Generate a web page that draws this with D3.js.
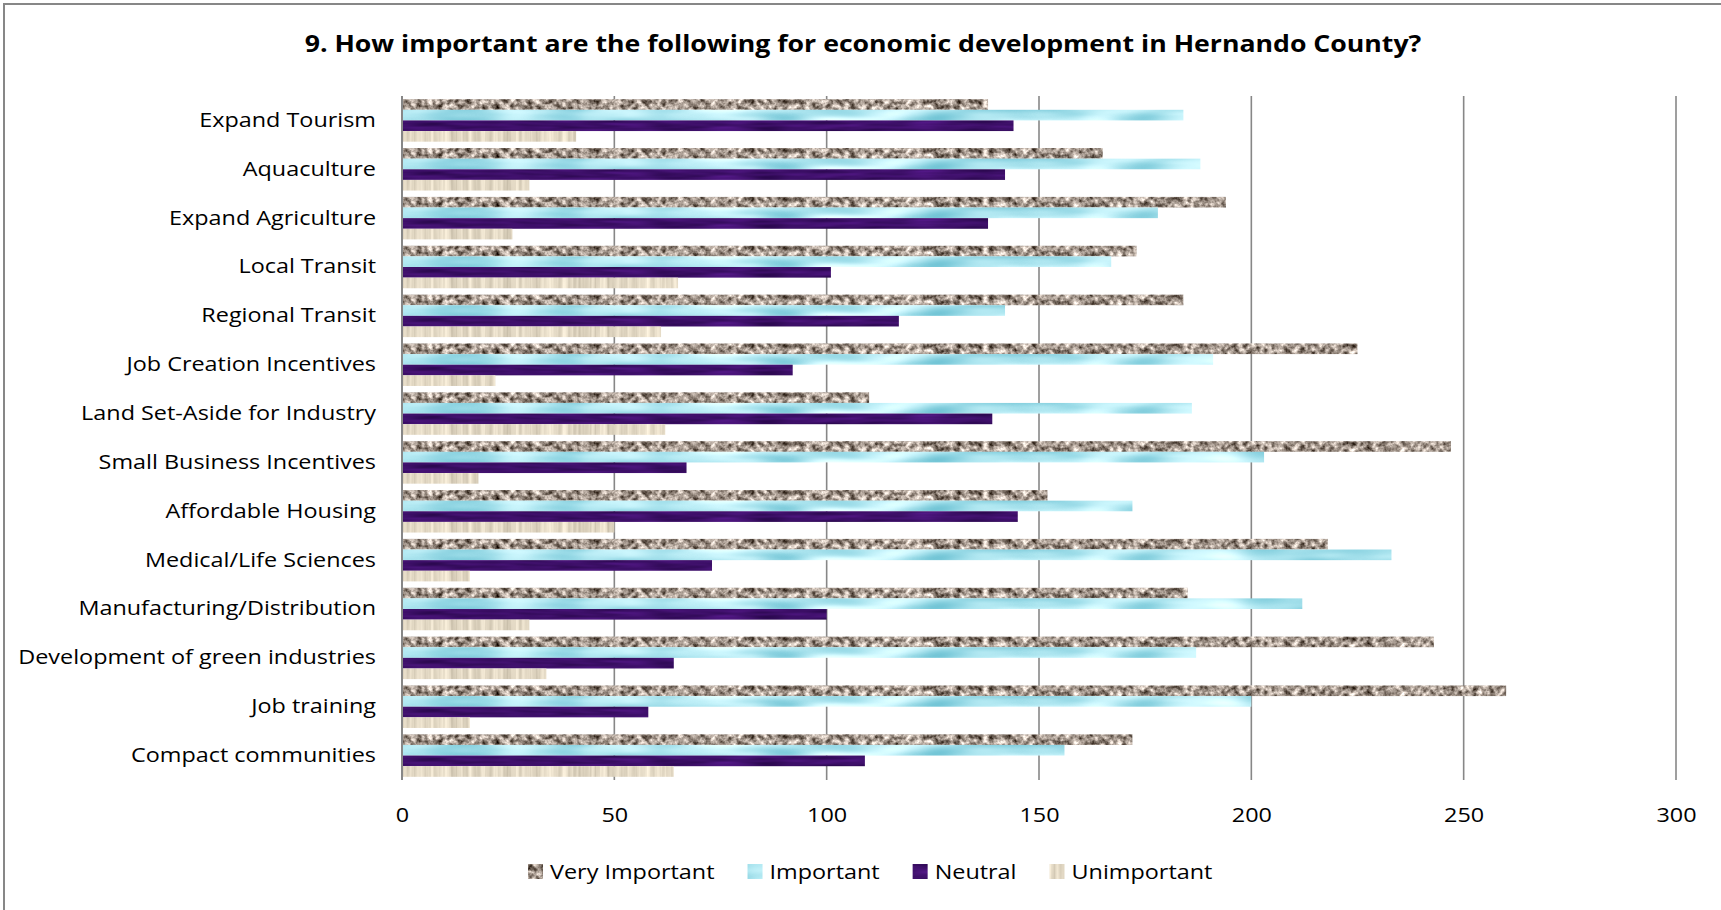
<!DOCTYPE html>
<html>
<head>
<meta charset="utf-8">
<script src="https://cdn.jsdelivr.net/npm/d3@7"></script>
<style>
    html, body { margin: 0; padding: 0; background: #fff; overflow: hidden; }
    svg text { font-family: "Open Sans", "Noto Sans", sans-serif; fill: #000; }
</style>
</head>
<body>
<svg id="chart" width="1721" height="910"></svg>
<script>
const title = "9. How important are the following for economic development in Hernando County?"

// top to bottom, as the chart reads
const categories = [
    "Expand Tourism",
    "Aquaculture",
    "Expand Agriculture",
    "Local Transit",
    "Regional Transit",
    "Job Creation Incentives",
    "Land Set-Aside for Industry",
    "Small Business Incentives",
    "Affordable Housing",
    "Medical/Life Sciences",
    "Manufacturing/Distribution",
    "Development of green industries",
    "Job training",
    "Compact communities"
]
const series = ["Very Important", "Important", "Neutral", "Unimportant"]
const veryImportant = [138, 165, 194, 173, 184, 225, 110, 247, 152, 218, 185, 243, 260, 172]
const important     = [184, 188, 178, 167, 142, 191, 186, 203, 172, 233, 212, 187, 200, 156]
const neutral       = [144, 142, 138, 101, 117,  92, 139,  67, 145,  73, 100,  64,  58, 109]
const unimportant   = [ 41,  30,  26,  65,  61,  22,  62,  18,  50,  16,  30,  34,  16,  64]
const xTicks = [0, 50, 100, 150, 200, 250, 300]

const seriesValues = [veryImportant, important, neutral, unimportant]
const rows = categories.map((category, i) => ({
    category,
    values: series.map((s, j) => ({series: s, value: seriesValues[j][i]}))
}))

// the original chart image is stretched sideways, text included
const stretch = 1.17
const plot = {left: 402, right: 1676, top: 96, bottom: 780}
const gridColor = "#878787"

// texture per series: base fill + turbulence tinted through a colour matrix (R channel drives all)
const textures = {
    "Very Important": {base: "#a39589", freq: "0.18", octaves: 3, seed: 7,
        r: [1.4, -0.06], g: [1.4, -0.11], b: [1.4, -0.15]},
    "Important": {base: "#aee6f0", freq: "0.012 0.06", octaves: 2, seed: 3,
        r: [0.9, 0.23], g: [0.5, 0.65], b: [0.4, 0.74]},
    "Neutral": {base: "#3c0e6a", freq: "0.02 0.2", octaves: 2, seed: 5,
        r: [0.25, 0.115], g: [0.1, 0.01], b: [0.35, 0.235]},
    "Unimportant": {base: "#e2d8c4", freq: "0.3 0.01", octaves: 2, seed: 11,
        r: [0.3, 0.74], g: [0.3, 0.70], b: [0.3, 0.62]}
}
const textureId = s => "tex-" + series.indexOf(s)

const svg = d3.select("#chart")
const defs = svg.append("defs")

series.forEach(s => {
    const t = textures[s]
    const f = defs.append("filter")
        .attr("id", textureId(s))
        .attr("x", 0).attr("y", 0).attr("width", 1).attr("height", 1)
        .attr("color-interpolation-filters", "sRGB")
    f.append("feTurbulence")
        .attr("type", "fractalNoise")
        .attr("baseFrequency", t.freq)
        .attr("numOctaves", t.octaves)
        .attr("seed", t.seed)
        .attr("result", "noise")
    f.append("feColorMatrix")
        .attr("in", "noise")
        .attr("type", "matrix")
        .attr("values", [
            `${t.r[0]} 0 0 0 ${t.r[1]}`,
            `${t.g[0]} 0 0 0 ${t.g[1]}`,
            `${t.b[0]} 0 0 0 ${t.b[1]}`,
            "0 0 0 0 1"
        ].join(" "))
        .attr("result", "tint")
    f.append("feComposite")
        .attr("in", "tint")
        .attr("in2", "SourceGraphic")
        .attr("operator", "in")
})

// chart frame (right and bottom edges fall outside the picture)
svg.append("rect")
    .attr("x", 4).attr("y", 4)
    .attr("width", 1800).attr("height", 1000)
    .attr("fill", "none")
    .attr("stroke", gridColor)
    .attr("stroke-width", 2)

svg.append("text")
    .attr("transform", `translate(863,44) scale(${stretch},1)`)
    .attr("text-anchor", "middle")
    .attr("dy", "0.35em")
    .attr("font-size", 22.8)
    .attr("font-weight", "bold")
    .text(title)

const x = d3.scaleLinear().domain([0, 300]).range([plot.left, plot.right])
const y = d3.scaleBand()
    .domain(categories)
    .range([plot.top, plot.bottom])
    .paddingInner(0.13)
    .paddingOuter(0.065)
const ySub = d3.scaleBand().domain(series).range([0, y.bandwidth()])

// vertical gridlines behind the bars
svg.append("g")
    .selectAll("line")
    .data(xTicks.slice(1))
    .join("line")
    .attr("x1", d => x(d)).attr("x2", d => x(d))
    .attr("y1", plot.top).attr("y2", plot.bottom)
    .attr("stroke", gridColor)
    .attr("stroke-width", 1.6)

svg.append("g")
    .selectAll("g")
    .data(rows)
    .join("g")
    .attr("transform", d => `translate(0,${y(d.category)})`)
    .selectAll("rect")
    .data(d => d.values)
    .join("rect")
    .attr("x", x(0))
    .attr("y", d => ySub(d.series))
    .attr("width", d => x(d.value) - x(0))
    .attr("height", ySub.bandwidth())
    .attr("fill", d => textures[d.series].base)
    .attr("filter", d => `url(#${textureId(d.series)})`)

// category axis
const yAxis = svg.append("g")
    .attr("transform", `translate(${plot.left},0)`)
    .call(d3.axisLeft(y).tickSize(0).tickPadding(26 / stretch))
yAxis.attr("font-size", 20).attr("font-family", null)
yAxis.select(".domain")
    .attr("d", `M0,${plot.top}V${plot.bottom}`)
    .attr("stroke", gridColor)
    .attr("stroke-width", 2)
yAxis.selectAll("text").attr("transform", `scale(${stretch},1)`)

// value axis: labels only
const xAxis = svg.append("g")
    .attr("transform", `translate(0,${plot.bottom})`)
    .call(d3.axisBottom(x).tickValues(xTicks).tickSize(0).tickPadding(27))
xAxis.attr("font-size", 20).attr("font-family", null)
xAxis.select(".domain").remove()
xAxis.selectAll("text").attr("dy", null).attr("dominant-baseline", "central")
    .attr("transform", `scale(${stretch},1)`)
xAxis.selectAll("text").attr("y", 34)

// legend
const legend = svg.append("g").attr("transform", "translate(528,871.5)")
let cursor = 0
series.forEach(s => {
    const item = legend.append("g").attr("transform", `translate(${cursor},0)`)
    item.append("rect")
        .attr("y", -7.5)
        .attr("width", 15).attr("height", 15)
        .attr("fill", textures[s].base)
        .attr("filter", `url(#${textureId(s)})`)
    const label = item.append("text")
        .attr("transform", `translate(22,0) scale(${stretch},1)`)
        .attr("dy", "0.35em")
        .attr("font-size", 20)
        .text(s)
    cursor += 22 + label.node().getComputedTextLength() * stretch + 33
})
</script>
</body>
</html>
